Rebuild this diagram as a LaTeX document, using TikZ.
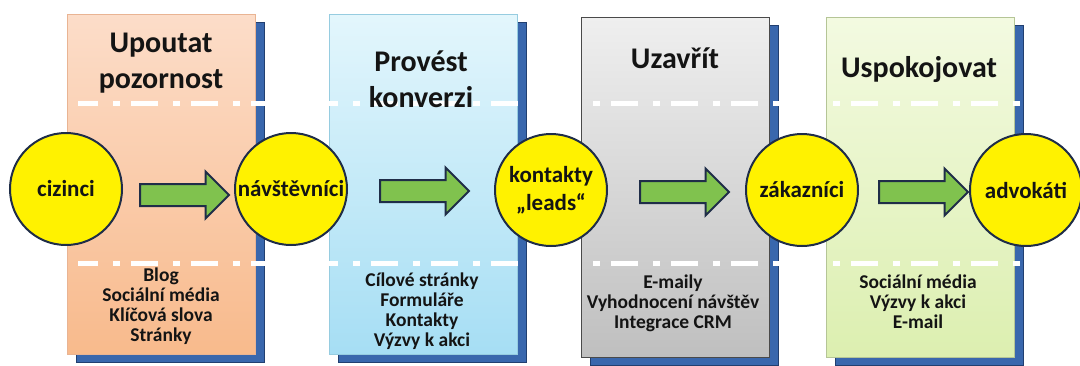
\documentclass[tikz,border=0pt]{standalone}
\usepackage{fontspec}
\setmainfont{Carlito}
\usetikzlibrary{positioning,shapes.arrows,shadows}

\definecolor{peachtop}{HTML}{FCDDC9}
\definecolor{peachbot}{HTML}{F8BA8C}
\definecolor{peachline}{HTML}{E9B493}
\definecolor{skytop}{HTML}{E3F6FC}
\definecolor{skybot}{HTML}{A6DEF4}
\definecolor{skyline}{HTML}{96CCE0}
\definecolor{greytop}{HTML}{EFEFEF}
\definecolor{greybot}{HTML}{BFBFBF}
\definecolor{greyline}{HTML}{4A4A4A}
\definecolor{limetop}{HTML}{F3FAE1}
\definecolor{limebot}{HTML}{DCEFB0}
\definecolor{limeline}{HTML}{B5C596}
\definecolor{backblue}{HTML}{3967AD}
\definecolor{backedge}{HTML}{213F70}
\definecolor{ringblue}{HTML}{1F2D48}
\definecolor{flowgreen}{HTML}{80C24E}
\definecolor{inktext}{HTML}{141414}

\tikzset{
    %Define style for the stage panels
    stage/.style={
           rectangle,
           line width=1pt,
           minimum width=188pt,
           minimum height=340pt,
           drop shadow={shadow xshift=9pt, shadow yshift=-8.5pt,
                        fill=backblue, draw=backedge, line width=1pt, opacity=1}},
    %Define style for the people circles
    person/.style={
           circle,
           draw=ringblue, line width=2pt,
           fill=yellow,
           minimum size=112pt,
           inner sep=0pt,
           align=center,
           text=inktext,
           font=\bfseries\fontsize{23}{28}\selectfont},
    %Define style for the block arrows
    flow/.style={
           single arrow,
           draw=ringblue, line width=2pt,
           fill=flowgreen,
           inner xsep=0pt,
           inner ysep=10pt,
           minimum height=89pt,
           single arrow head extend=12.5pt},
    heading/.style={
           align=center,
           anchor=base,
           inner sep=0pt,
           text=inktext,
           font=\bfseries\fontsize{30}{36}\selectfont},
    items/.style={
           align=center,
           anchor=base,
           inner sep=0pt,
           text=inktext,
           font=\bfseries\fontsize{19.5}{20}\selectfont},
    % Define divider style
    divider/.style={
           draw=white,
           line width=5pt,
           dash pattern=on 27pt off 15pt on 7pt off 11pt,
           dash phase=7pt}
}

\begin{document}
\begin{tikzpicture}[x=1pt,y=1pt]
  \useasboundingbox (0,0) rectangle (1080,-365);
  \begin{scope}
  \node[stage, draw=peachline, top color=peachtop, bottom color=peachbot] (attract) at (161,-184) {};
  \node[stage, draw=skyline, top color=skytop, bottom color=skybot, right=73pt of attract] (convert) {};
  \node[stage, draw=greyline, top color=greytop, bottom color=greybot, right=63pt of convert, yshift=-3pt] (close) {};
  \node[stage, draw=limeline, top color=limetop, bottom color=limebot, right=56pt of close] (delight) {};

  \draw[divider] (78,-103) -- (1020,-103);
  \draw[divider] (78,-263) -- (1020,-263);

  % baselines below are those of the last line
  \node[heading] (attract-title) at (161,-88) {Upoutat\\pozornost};
  \node[heading] (convert-title) at (421,-107) {Provést\\konverzi};
  \node[heading] (close-title) at (675,-68) {Uzavřít};
  \node[heading] (delight-title) at (919,-77) {Uspokojovat};

  \node[person] (strangers) at (66,-189) {cizinci};
  \node[person] (visitors) at (291,-189) {návštěvníci};
  \node[person] (leads) at (551,-190) {kontakty\\„leads“};
  \node[person] (customers) at (802,-190) {zákazníci};
  \node[person] (promoters) at (1026,-190) {advokáti};

  \node[flow, right=16pt of strangers, yshift=-6pt] (step-1) {};
  \node[flow, right=31pt of visitors, yshift=-2pt] (step-2) {};
  \node[flow, right=31pt of leads, yshift=-2pt] (step-3) {};
  \node[flow, right=19pt of customers, yshift=-2pt] (step-4) {};

  \node[items] (attract-tools) at (161,-341)
    {Blog\\Sociální média\\Klíčová slova\\Stránky};
  \node[items] (convert-tools) at (422,-346)
    {Cílové stránky\\Formuláře\\Kontakty\\Výzvy k akci};
  \node[items] (close-tools) at (673,-328)
    {E-maily\\Vyhodnocení návštěv\\Integrace CRM};
  \node[items] (delight-tools) at (918,-328)
    {Sociální média\\Výzvy k akci\\E-mail};
  \end{scope}
\end{tikzpicture}
\end{document}
